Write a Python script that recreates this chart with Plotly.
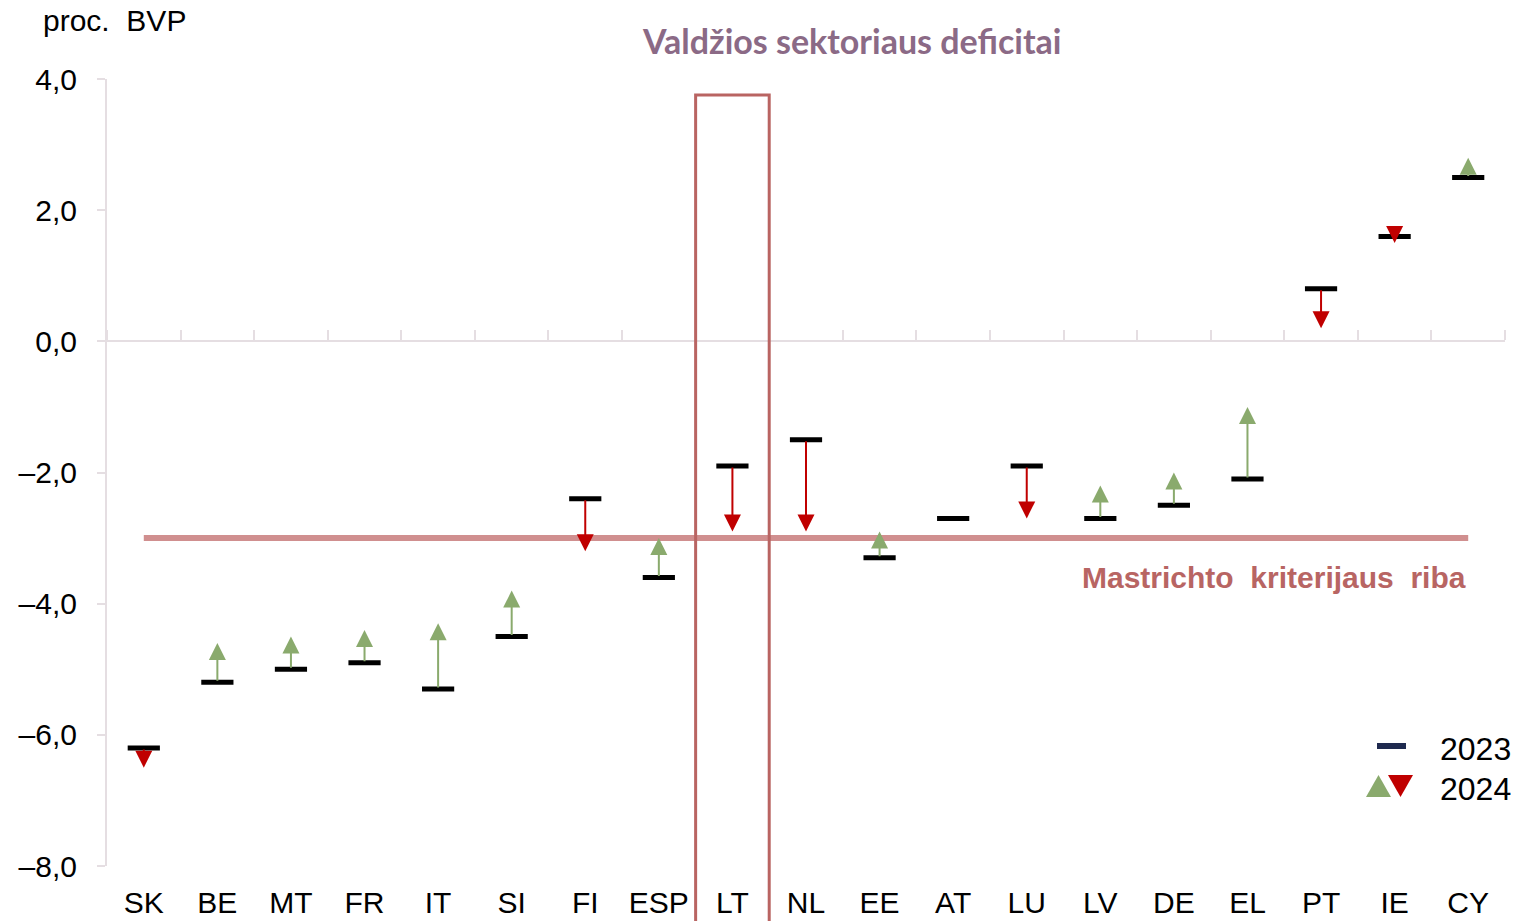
import plotly.graph_objects as go

# ---------------- data ----------------
countries = ["SK", "BE", "MT", "FR", "IT", "SI", "FI", "ESP", "LT", "NL",
             "EE", "AT", "LU", "LV", "DE", "EL", "PT", "IE", "CY"]
deficit_2023 = [-6.2, -5.2, -5.0, -4.9, -5.3, -4.5, -2.4, -3.6, -1.9, -1.5,
                -3.3, -2.7, -1.9, -2.7, -2.5, -2.1, 0.8, 1.6, 2.5]
deficit_2024 = [-6.5, -4.6, -4.5, -4.4, -4.3, -3.8, -3.2, -3.0, -2.9, -2.9,
                -2.9, -2.7, -2.7, -2.2, -2.0, -1.0, 0.2, 1.5, 2.8]
maastricht_limit = -3.0
highlight = "LT"
y_tickvals = [4, 2, 0, -2, -4, -6, -8]
y_ticktext = ["4,0", "2,0", "0,0", "–2,0", "–4,0", "–6,0", "–8,0"]

# ---------------- layout geometry (pixels) ----------------
FIG_W, FIG_H = 1516, 921
L, R, T, B = 107, 1505, 79, 866
W, H = R - L, B - T


def px(x):
    return (x - L) / W


def py(y):
    return (B - y) / H


GREEN = "#8AAA6D"
RED = "#C00000"
AXIS_GREY = "#E5DEE2"
FONT = "Liberation Sans, Arial, sans-serif"

n = len(countries)
xs = list(range(n))

fig = go.Figure()

# 2023 dashes
fig.add_trace(go.Scatter(
    x=xs, y=deficit_2023, mode="markers",
    marker=dict(symbol="line-ew", size=23, line=dict(width=5, color="black")),
    showlegend=False, hoverinfo="skip", cliponaxis=False,
))
# invisible trace for the zero-line axis
fig.add_trace(go.Scatter(
    x=xs, y=deficit_2023, mode="markers", xaxis="x2",
    marker=dict(opacity=0), showlegend=False, hoverinfo="skip",
))

annotations = []
for i, (a, b) in enumerate(zip(deficit_2023, deficit_2024)):
    if abs(a - b) < 1e-9:
        continue
    col = GREEN if b > a else RED
    annotations.append(dict(
        x=i, y=b, ax=i, ay=a, xref="x", yref="y", axref="x", ayref="y",
        text="", showarrow=True, arrowhead=2, arrowsize=1.7, arrowwidth=2,
        arrowcolor=col, standoff=0, startstandoff=0,
    ))

# Maastricht limit line
shapes = [
    dict(type="line", xref="x", yref="y", x0=0, x1=n - 1,
         y0=maastricht_limit, y1=maastricht_limit,
         line=dict(color="rgba(190,100,100,0.72)", width=6), layer="above"),
    dict(type="rect", xref="x", yref="paper",
         x0=countries.index(highlight) - 0.5, x1=countries.index(highlight) + 0.5,
         y0=-0.2, y1=py(95), line=dict(color="#B96462", width=3), layer="above"),
    # legend symbols
    dict(type="line", xref="paper", yref="paper", x0=px(1377), x1=px(1406),
         y0=py(746), y1=py(746), line=dict(color="#1F2A4F", width=6)),
    dict(type="path", xref="paper", yref="paper",
         path=f"M {px(1366)} {py(797)} L {px(1391)} {py(797)} L {px(1378.5)} {py(775)} Z",
         fillcolor=GREEN, line=dict(width=0)),
    dict(type="path", xref="paper", yref="paper",
         path=f"M {px(1388)} {py(775)} L {px(1413)} {py(775)} L {px(1400.5)} {py(797)} Z",
         fillcolor=RED, line=dict(width=0)),
]

annotations += [
    dict(text="proc.  BVP", xref="paper", yref="paper", x=px(41), y=py(21),
         xanchor="left", yanchor="middle", showarrow=False,
         font=dict(family=FONT, size=30, color="black")),
    dict(text="<b>Valdžios sektoriaus deficitai</b>", xref="paper", yref="paper",
         x=px(851), y=py(40), xanchor="center", yanchor="middle", showarrow=False,
         font=dict(family="Lato, Open Sans, sans-serif", size=34, color="#8B6A86")),
    dict(text="<b>Mastrichto  kriterijaus  riba</b>", xref="paper", yref="paper",
         x=px(1468), y=py(577), xanchor="right", yanchor="middle", showarrow=False,
         font=dict(family=FONT, size=30, color="#B86563")),
    dict(text="2023", xref="paper", yref="paper", x=px(1438), y=py(749),
         xanchor="left", yanchor="middle", showarrow=False,
         font=dict(family=FONT, size=32, color="black")),
    dict(text="2024", xref="paper", yref="paper", x=px(1438), y=py(789),
         xanchor="left", yanchor="middle", showarrow=False,
         font=dict(family=FONT, size=32, color="black")),
]

fig.update_layout(
    width=FIG_W, height=FIG_H,
    margin=dict(l=L, r=FIG_W - R, t=T, b=FIG_H - B, pad=0),
    paper_bgcolor="white", plot_bgcolor="white",
    showlegend=False,
    font=dict(family=FONT, color="black"),
    xaxis=dict(range=[-0.5, n - 0.5], tickvals=xs, ticktext=countries,
               showline=False, showgrid=False, zeroline=False, automargin=False,
               ticks="outside", ticklen=10, tickcolor="rgba(0,0,0,0)",
               tickfont=dict(family=FONT, size=30, color="black")),
    xaxis2=dict(range=[-0.5, n - 0.5], overlaying="x", anchor="free",
                position=(0 - (-8)) / 12, side="top", automargin=False,
                tickvals=[i - 0.5 for i in range(n + 1)], showticklabels=False,
                showline=True, linecolor=AXIS_GREY, linewidth=2,
                ticks="outside", ticklen=10, tickwidth=2, tickcolor=AXIS_GREY,
                showgrid=False, zeroline=False),
    yaxis=dict(range=[-8, 4], tickvals=y_tickvals, ticktext=y_ticktext,
               showline=True, linecolor=AXIS_GREY, linewidth=2, automargin=False,
               ticks="outside", ticklen=8, tickwidth=2, tickcolor=AXIS_GREY,
               showgrid=False, zeroline=False, ticklabelstandoff=14,
               tickfont=dict(family=FONT, size=30, color="black")),
    shapes=shapes,
    annotations=annotations,
)

fig.write_html("out.html", config={"displayModeBar": False},
               post_script="document.body.style.margin='0';document.body.style.overflow='hidden';")
